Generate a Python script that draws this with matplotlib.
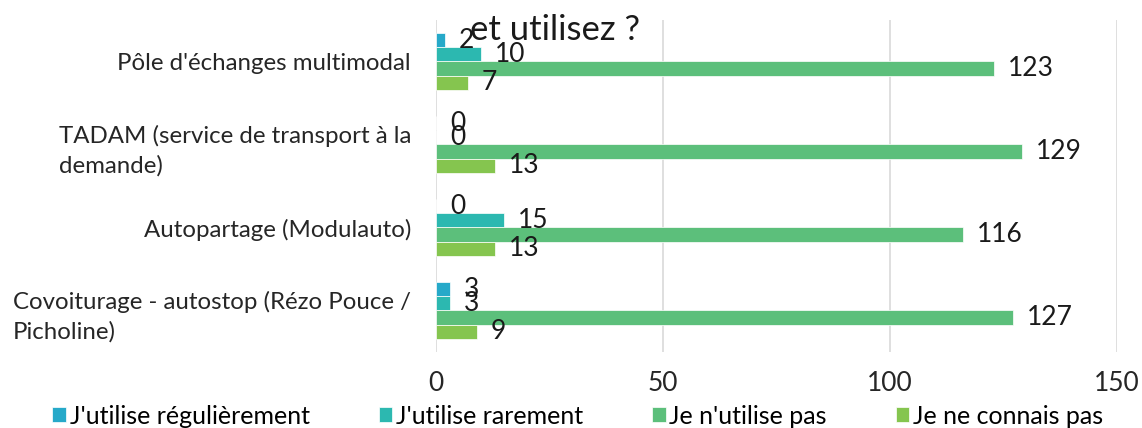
import matplotlib.pyplot as plt
import numpy as np

plt.rcParams['font.family'] = ['Lato', 'DejaVu Sans']

# Données
categories = ["Pôle d'échanges multimodal",
              "TADAM (service de transport à la\ndemande)",
              "Autopartage (Modulauto)",
              "Covoiturage - autostop (Rézo Pouce /\nPicholine)"]
series = ["J'utilise régulièrement", "J'utilise rarement",
          "Je n'utilise pas", "Je ne connais pas"]
regulierement = [2, 0, 0, 3]
rarement = [10, 0, 15, 3]
pas_utilise = [123, 129, 116, 127]
pas_connu = [7, 13, 13, 9]
couleurs = ['#26A9C9', '#2CB8B0', '#5CBF7B', '#85C54F']

valeurs = [regulierement, rarement, pas_utilise, pas_connu]

fig = plt.figure(figsize=(11.42, 4.28), dpi=100)
ax = fig.add_axes([0.3818, 0.1776, 0.5963, 0.7757])

y = np.arange(len(categories))
h = 0.17
for k, (vals, nom, c) in enumerate(zip(valeurs, series, couleurs)):
    pos = y + (k - 1.5) * h
    ax.barh(pos, vals, height=h, color=c, label=nom, edgecolor='white', linewidth=0.5)
    for p, v in zip(pos, vals):
        ax.annotate(str(v), (v, p), xytext=(10, 0), textcoords='offset points',
                    va='center', ha='left', fontsize=19, color='#1a1a1a')

ax.set_ylim(len(categories) - 0.5, -0.5)
ax.set_xlim(0, 150)
ax.set_xticks([0, 50, 100, 150])
ax.set_yticks(y)
ax.set_yticklabels(categories, fontsize=17.3, color='#262626', linespacing=1.45)
for lbl in ax.get_yticklabels():
    lbl.set_multialignment('left')
ax.tick_params(axis='x', labelsize=19, colors='#262626', length=0, pad=14)
ax.tick_params(axis='y', length=0, pad=18)
ax.grid(axis='x', color='#d9d9d9', linewidth=1.2)
ax.set_axisbelow(True)
for s in ax.spines.values():
    s.set_visible(False)

fig.text(0.486, 0.93, 'et utilisez ?', fontsize=25, ha='center', va='center', color='#1a1a1a')

fig.legend(loc='lower center', bbox_to_anchor=(0.506, -0.052), ncol=4, frameon=False,
           fontsize=18, handlelength=0.55, handleheight=0.55, handletextpad=0.15,
           columnspacing=2.75)

fig.savefig('out.png', dpi=100)
